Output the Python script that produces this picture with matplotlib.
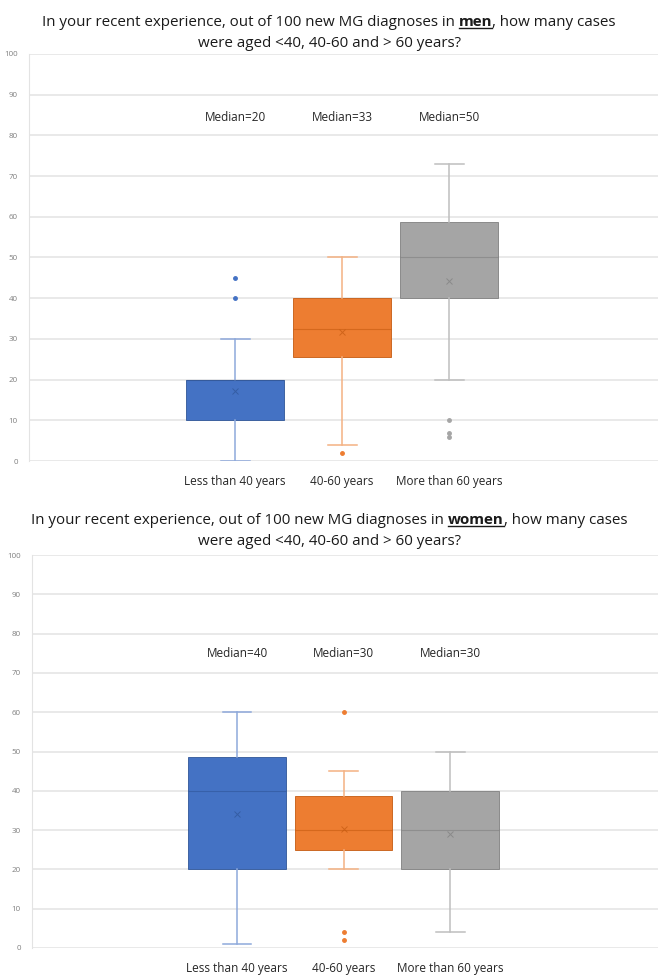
import matplotlib.pyplot as plt
from matplotlib.lines import Line2D

plt.rcParams['font.family'] = ['Open Sans', 'DejaVu Sans']

categories = ["Less than 40 years", "40-60 years", "More than 60 years"]
colors = ["#4472C4", "#ED7D31", "#A5A5A5"]
dark = ["#2F5597", "#C55A11", "#7F7F7F"]
light = ["#8EA9DB", "#F4B183", "#BFBFBF"]

# men
men_whislo = [0, 4, 20]
men_q1 = [10, 25.5, 40]
men_med = [20, 32.5, 50]
men_q3 = [20, 40, 58.8]
men_whishi = [30, 50, 73]
men_mean = [17.3, 31.8, 44.3]
men_fliers = [[40, 45], [2], [6, 7, 10]]
men_median_labels = ["Median=20", "Median=33", "Median=50"]

# women
women_whislo = [1, 20, 4]
women_q1 = [20, 25, 20]
women_med = [40, 30, 30]
women_q3 = [48.7, 38.8, 40]
women_whishi = [60, 45, 50]
women_mean = [34.2, 30.2, 29.0]
women_fliers = [[], [2, 4, 60], []]
women_median_labels = ["Median=40", "Median=30", "Median=30"]

W, H = 658, 977
fig = plt.figure(figsize=(W / 100, H / 100), dpi=100)


def draw_panel(rect, whislo, q1, med, q3, whishi, mean, fliers, med_labels, med_y):
    ax = fig.add_axes(rect)
    for i in range(3):
        st = [dict(whislo=whislo[i], q1=q1[i], med=med[i], q3=q3[i],
                   whishi=whishi[i], mean=mean[i], fliers=fliers[i])]
        ax.bxp(st, positions=[i + 1], widths=0.915, patch_artist=True,
               showmeans=True, showfliers=True,
               boxprops=dict(facecolor=colors[i], edgecolor=dark[i], linewidth=0.6),
               medianprops=dict(color=dark[i], linewidth=0.8, alpha=0.6),
               whiskerprops=dict(color=light[i], linewidth=1.1),
               capprops=dict(color=light[i], linewidth=1.1),
               capwidths=0.27,
               meanprops=dict(marker="x", markeredgecolor=dark[i], markersize=5,
                              markeredgewidth=0.7, alpha=0.7),
               flierprops=dict(marker="o", markerfacecolor=colors[i],
                               markeredgecolor=colors[i], markersize=2.5))
        ax.text(i + 1, med_y, med_labels[i], ha="center", va="center",
                fontsize=8.5, color="#262626")
    ax.set_xlim(-0.925, 4.95)
    ax.set_ylim(0, 100)
    ax.set_yticks(range(0, 101, 10))
    ax.tick_params(axis="y", labelsize=5.8, labelcolor="#808080", length=0, pad=8)
    ax.set_xticks([1, 2, 3])
    ax.set_xticklabels(categories, fontsize=8.5, color="#262626")
    ax.tick_params(axis="x", length=0, pad=10)
    ax.grid(axis="y", color="#E3E3E3", linewidth=1.1)
    ax.set_axisbelow(True)
    for s in ["top", "right", "bottom"]:
        ax.spines[s].set_visible(False)
    ax.spines["left"].set_color("#E3E3E3")
    return ax


ax1 = draw_panel([29 / W, 1 - 461 / H, 629 / W, 407 / H],
                 men_whislo, men_q1, men_med, men_q3, men_whishi, men_mean,
                 men_fliers, men_median_labels, 84.5)
ax2 = draw_panel([32 / W, 1 - 948 / H, 626 / W, 393 / H],
                 women_whislo, women_q1, women_med, women_q3, women_whishi,
                 women_mean, women_fliers, women_median_labels, 75)

renderer = fig.canvas.get_renderer()


def title(y_px, word, y2_px):
    parts = ["In your recent experience, out of 100 new MG diagnoses in ", word,
             ", how many cases"]
    texts = []
    for j, p in enumerate(parts):
        t = fig.text(0, 1 - y_px / H, p, fontsize=10.9, color="#1a1a1a",
                     fontweight="bold" if j == 1 else "normal", va="baseline")
        texts.append(t)
    widths = [t.get_window_extent(renderer).width for t in texts]
    x = (W - sum(widths)) / 2
    for t, w in zip(texts, widths):
        t.set_x(x / W)
        x += w
    bb = texts[1].get_window_extent(renderer)
    fig.add_artist(Line2D([bb.x0 / W, bb.x1 / W],
                          [(H - y_px - 2) / H, (H - y_px - 2) / H],
                          color="#1a1a1a", linewidth=1.0))
    fig.text(0.5, 1 - y2_px / H, "were aged <40, 40-60 and > 60 years?",
             fontsize=10.9, color="#1a1a1a", ha="center", va="baseline")


title(26, "men", 47)
title(524, "women", 545)

fig.savefig("out.png", dpi=100, facecolor="white")
